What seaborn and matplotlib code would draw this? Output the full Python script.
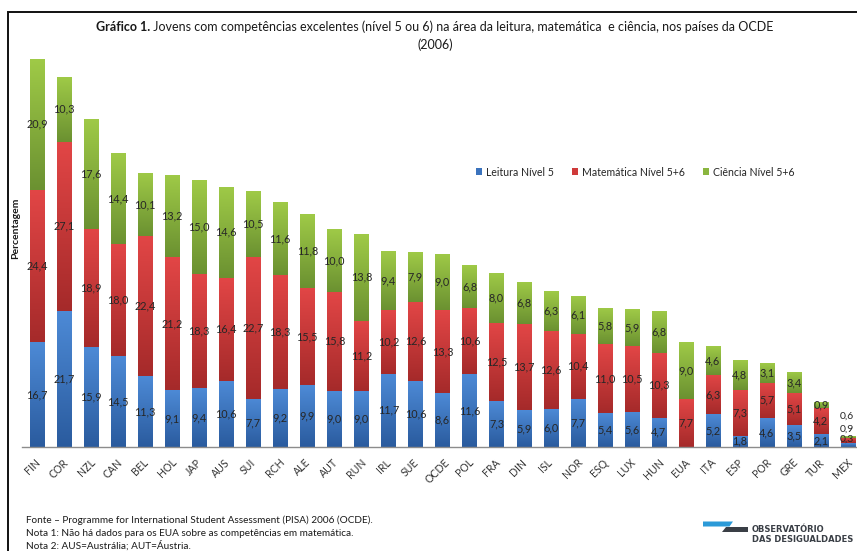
import numpy as np
import pandas as pd
import matplotlib
matplotlib.use("Agg")
import matplotlib.pyplot as plt
import matplotlib.transforms as mtransforms
from matplotlib.colors import LinearSegmentedColormap
from matplotlib.patches import Patch, Rectangle, Polygon
import seaborn as sns

# PISA 2006: share of students at top proficiency levels (%)
countries = ["FIN", "COR", "NZL", "CAN", "BEL", "HOL", "JAP", "AUS", "SUI", "RCH",
             "ALE", "AUT", "RUN", "IRL", "SUE", "OCDE", "POL", "FRA", "DIN", "ISL",
             "NOR", "ESQ", "LUX", "HUN", "EUA", "ITA", "ESP", "POR", "GRE", "TUR", "MEX"]
leitura = [16.7, 21.7, 15.9, 14.5, 11.3, 9.1, 9.4, 10.6, 7.7, 9.2,
           9.9, 9.0, 9.0, 11.7, 10.6, 8.6, 11.6, 7.3, 5.9, 6.0,
           7.7, 5.4, 5.6, 4.7, 0.0, 5.2, 1.8, 4.6, 3.5, 2.1, 0.6]
matematica = [24.4, 27.1, 18.9, 18.0, 22.4, 21.2, 18.3, 16.4, 22.7, 18.3,
              15.5, 15.8, 11.2, 10.2, 12.6, 13.3, 10.6, 12.5, 13.7, 12.6,
              10.4, 11.0, 10.5, 10.3, 7.7, 6.3, 7.3, 5.7, 5.1, 4.2, 0.9]
ciencia = [20.9, 10.3, 17.6, 14.4, 10.1, 13.2, 15.0, 14.6, 10.5, 11.6,
           11.8, 10.0, 13.8, 9.4, 7.9, 9.0, 6.8, 8.0, 6.8, 6.3,
           6.1, 5.8, 5.9, 6.8, 9.0, 4.6, 4.8, 3.1, 3.4, 0.9, 0.3]
series_names = ["Leitura Nível 5", "Matemática Nível 5+6", "Ciência Nível 5+6"]

title_bold = "Gráfico 1."
title_rest = " Jovens com competências excelentes (nível 5 ou 6) na área da leitura, matemática  e ciência, nos países da OCDE"
title_year = "(2006)"
footer = ["Fonte – Programme for International Student Assessment (PISA) 2006 (OCDE).",
          "Nota 1: Não há dados para os EUA sobre as competências em matemática.",
          "Nota 2: AUS=Austrália; AUT=Áustria."]

sns.set_style("white")
plt.rcParams["font.family"] = ["Lato", "DejaVu Sans"]

W, H = 857, 551
fig = plt.figure(figsize=(W / 100, H / 100), dpi=100)
fig.patch.set_facecolor("white")

def px(x, y):
    return x / W, 1 - y / H

ax_left, ax_right, ax_base, ax_top = 22, 857, 447, 56
ax = fig.add_axes([ax_left / W, 1 - ax_base / H, (ax_right - ax_left) / W, (ax_base - ax_top) / H])

df = pd.DataFrame({"pais": countries, "leitura": leitura,
                   "matematica": matematica, "ciencia": ciencia})

# gradient colour pairs (bottom, top) and flat colour for each series
grad = [("#2a5b9e", "#4d8ad6"), ("#a52a2a", "#e24646"), ("#6b9131", "#9fca47")]
flat = ["#3b73bd", "#cf3a3a", "#8ab63f"]

bottom = np.zeros(len(countries))
cols = ["leitura", "matematica", "ciencia"]
bar_groups = []
for i, col in enumerate(cols):
    n_before = len(ax.patches)
    sns.barplot(data=df, x="pais", y=col, ax=ax, color=flat[i], saturation=1,
                width=0.52, errorbar=None, bottom=bottom.copy(), linewidth=0)
    bar_groups.append(ax.patches[n_before:])
    bottom = bottom + df[col].to_numpy()

# vertical shading inside every bar segment
ramp = np.linspace(0, 1, 128).reshape(-1, 1)
for i, patches in enumerate(bar_groups):
    cmap = LinearSegmentedColormap.from_list(f"g{i}", list(grad[i]))
    for p in patches:
        x0, y0, w, h = p.get_x(), p.get_y(), p.get_width(), p.get_height()
        if h <= 0:
            continue
        im = ax.imshow(ramp, cmap=cmap, origin="lower", aspect="auto",
                       extent=(x0, x0 + w, y0, y0 + h), zorder=1.5,
                       interpolation="bilinear")
        im.set_clip_path(p)

# value labels centred in each segment
def fmt(v):
    return f"{v:.1f}".replace(".", ",")

base = np.zeros(len(countries))
for col in cols:
    vals = df[col].to_numpy()
    for j, v in enumerate(vals):
        if v <= 0 or countries[j] == "MEX":
            continue
        ax.text(j, base[j] + v / 2, fmt(v), ha="center", va="center",
                fontsize=7.8, color="#262626", zorder=3)
    base = base + vals

# Mexico's tiny bar: labels stacked above it
mex = countries.index("MEX")
for v, yv in zip([leitura[mex], matematica[mex], ciencia[mex]], [4.95, 2.9, 1.3]):
    ax.text(mex - 0.02, yv, fmt(v), ha="center", va="center",
            fontsize=7.5, color="#262626", zorder=3, clip_on=False)

ppu = 6.26
x0 = -(37 - ax_left) / 27.03
ax.set_xlim(x0, x0 + (ax_right - ax_left) / 27.03)
ax.set_ylim(0, (ax_base - ax_top) / ppu)
ax.set_xlabel("")
ax.set_ylabel("")
ax.set_yticks([])
ax.set_xticks(range(len(countries)))
ax.set_xticklabels(countries, rotation=45, ha="center", fontsize=7.6, color="#333333")
ax.tick_params(axis="x", length=0, pad=7)
shift = mtransforms.ScaledTranslation(-5 / 100, 0, fig.dpi_scale_trans)
for lab in ax.get_xticklabels():
    lab.set_transform(lab.get_transform() + shift)
for s in ["left", "right", "top"]:
    ax.spines[s].set_visible(False)
ax.spines["bottom"].set_color("#8c8c8c")
ax.spines["bottom"].set_linewidth(1.0)
ax.patch.set_alpha(0)

# y-axis caption
fig.text(*px(16, 228), "Percentagem", rotation=90, ha="center", va="center",
         fontsize=7.5, fontweight="bold", color="#1a1a1a")

# legend
handles = [Patch(facecolor=c, edgecolor="none") for c in flat]
fig.legend(handles, series_names, loc="center left", bbox_to_anchor=px(476, 172),
           ncol=3, frameon=False, fontsize=7.6, handlelength=0.6, handleheight=0.6,
           handletextpad=0.35, columnspacing=1.7, borderaxespad=0, borderpad=0)

# title: bold prefix followed by regular text, centred as a whole
renderer = fig.canvas.get_renderer()
tb = fig.text(0, 0, title_bold, fontsize=9, fontweight="bold", color="#1a1a1a", va="center")
tr = fig.text(0, 0, title_rest, fontsize=9, color="#1a1a1a", va="center")
wb = tb.get_window_extent(renderer).width
wr = tr.get_window_extent(renderer).width
cx, cy = 435, 27
start = cx - (wb + wr) / 2
tb.set_position(px(start, cy))
tr.set_position(px(start + wb, cy))
fig.text(*px(cx, 45), title_year, fontsize=9, color="#1a1a1a", ha="center", va="center")

# footnotes
for k, line in enumerate(footer):
    fig.text(*px(26, 520 + 13 * k), line, fontsize=7.2, color="#1a1a1a", va="center")

# logo
blue_poly = Polygon([px(703, 521.5), px(733, 521.5), px(729.5, 526.5), px(703, 526.5)],
                    closed=True, transform=fig.transFigure, facecolor="#2b9ad8", edgecolor="none")
dark_poly = Polygon([px(726, 526.5), px(748, 526.5), px(748, 531.5), px(722, 531.5)],
                    closed=True, transform=fig.transFigure, facecolor="#3a3f46", edgecolor="none")
fig.add_artist(blue_poly)
fig.add_artist(dark_poly)
fig.text(*px(752, 530), "OBSERVATÓRIO", fontsize=6, fontweight="bold", color="#3a3f46",
         va="center", family=["DejaVu Sans"])
fig.text(*px(752, 539.5), "DAS DESIGUALDADES", fontsize=6, fontweight="bold", color="#3a3f46",
         va="center", family=["DejaVu Sans"])

# outer frame
fx, fy = px(8, 12)
frame = Rectangle((fx, -0.2), 1.5, fy + 0.2, transform=fig.transFigure, fill=False,
                  edgecolor="#111111", linewidth=1.4, clip_on=False)
fig.add_artist(frame)

fig.savefig("out.png", dpi=100, facecolor="white")
